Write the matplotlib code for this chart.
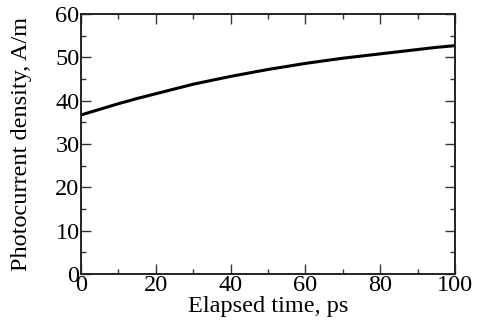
import numpy as np
import matplotlib
matplotlib.use("Agg")
import matplotlib.pyplot as plt
from matplotlib.ticker import MultipleLocator

# photocurrent vs elapsed time
time_ps = [0, 5, 10, 15, 20, 25, 30, 35, 40, 45, 50,
           55, 60, 65, 70, 75, 80, 85, 90, 95, 100]
current = [36.7, 38.0, 39.3, 40.5, 41.6, 42.7, 43.8, 44.7, 45.6, 46.4, 47.2,
           47.9, 48.6, 49.2, 49.8, 50.3, 50.8, 51.3, 51.8, 52.3, 52.7]

plt.rcParams['font.family'] = ['Liberation Serif', 'DejaVu Serif']

fig = plt.figure(figsize=(4.82, 3.24), dpi=100)
ax = fig.add_axes([81/482, 1 - 274/324, (455-81)/482, (274-14)/324])

ax.plot(time_ps, current, color='black', linewidth=2.2)

ax.set_xlim(0, 100)
ax.set_ylim(0, 60)
ax.xaxis.set_major_locator(MultipleLocator(20))
ax.xaxis.set_minor_locator(MultipleLocator(10))
ax.yaxis.set_major_locator(MultipleLocator(10))
ax.yaxis.set_minor_locator(MultipleLocator(5))
ax.tick_params(which='both', direction='in', top=True, right=True,
               labelsize=17.5, width=1.0, color='#333333', pad=1)
ax.tick_params(which='major', length=7)
ax.tick_params(which='minor', length=3.5)
for s in ax.spines.values():
    s.set_linewidth(1.4)
    s.set_color('#222222')

ax.set_xlabel('Elapsed time, ps', fontsize=17.5, labelpad=0)
ax.set_ylabel('Photocurrent density, A/m', fontsize=17.5, labelpad=17)

fig.savefig('out.png', dpi=100)
